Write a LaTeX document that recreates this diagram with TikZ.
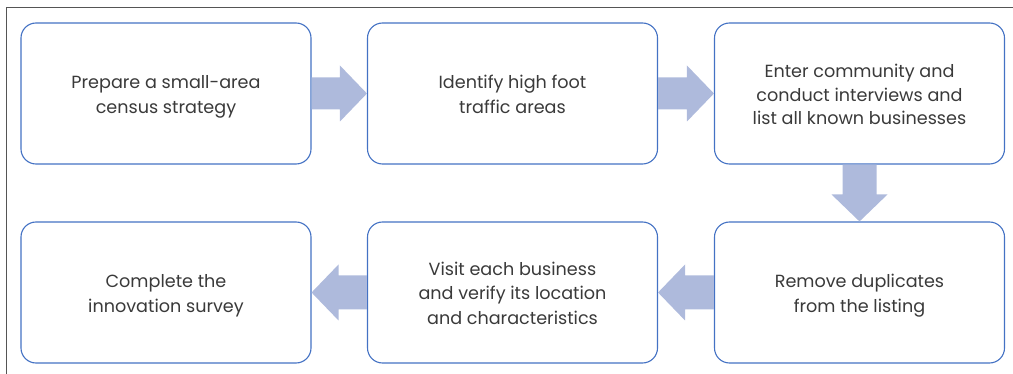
\documentclass[tikz,border=0pt]{standalone}
\usepackage{fontspec}
\setmainfont{Poppins}
\usetikzlibrary{calc}
\definecolor{boxblue}{HTML}{4472C4}
\definecolor{arrowfill}{HTML}{AEBADC}
\definecolor{txt}{HTML}{3A3A3A}
\definecolor{frame}{HTML}{555555}
\newcommand\lstrut{\rule[-4pt]{0pt}{23.5pt}}
\tikzset{
  stepbox/.style={draw=boxblue, line width=1.1pt, rounded corners=15pt, fill=white,
    minimum width=290pt, minimum height=141pt, inner sep=0pt, align=center,
    text=txt, font=\fontsize{17.6pt}{23.5pt}\selectfont},
  flowarrow/.style={fill=arrowfill, draw=none}
}
\begin{document}
\begin{tikzpicture}[x=1pt,y=-1pt]
\useasboundingbox (0,0) rectangle (1013,374);
\draw[frame, line width=1pt] (6,374) -- (6,7.5) -- (1013,7.5);
\node[stepbox] (s1) at (166,93.5) {\lstrut Prepare a small-area\\\lstrut census strategy};
\node[stepbox] (s2) at (512.5,93.5) {\lstrut Identify high foot\\\lstrut traffic areas};
\node[stepbox] (s3) at (859.5,93.5) {\lstrut Enter community and\\conduct interviews and\\\lstrut list all known businesses};
\node[stepbox] (s4) at (859.5,292.5) {\lstrut Remove duplicates\\\lstrut from the listing};
\node[stepbox] (s5) at (512.5,292.5) {\lstrut Visit each business\\and verify its location\\\lstrut and characteristics};
\node[stepbox] (s6) at (166,292.5) {\lstrut Complete the\\\lstrut innovation survey};
% right arrows
\foreach \a/\b in {s1/s2, s2/s3}{
  \fill[flowarrow] ($(\a.east)+(0,-16)$) -- ($(\b.west)+(-27,-16)$) -- ($(\b.west)+(-27,-28)$)
    -- (\b.west) -- ($(\b.west)+(-27,28)$) -- ($(\b.west)+(-27,16)$) -- ($(\a.east)+(0,16)$) -- cycle;
}
% down arrow
\fill[flowarrow] ($(s3.south)+(-17,0)$) -- ($(s4.north)+(-17,-27)$) -- ($(s4.north)+(-28,-27)$)
  -- (s4.north) -- ($(s4.north)+(28,-27)$) -- ($(s4.north)+(17,-27)$) -- ($(s3.south)+(17,0)$) -- cycle;
% left arrows
\foreach \a/\b in {s4/s5, s5/s6}{
  \fill[flowarrow] ($(\a.west)+(0,-17)$) -- ($(\b.east)+(27,-17)$) -- ($(\b.east)+(27,-28)$)
    -- (\b.east) -- ($(\b.east)+(27,28)$) -- ($(\b.east)+(27,17)$) -- ($(\a.west)+(0,17)$) -- cycle;
}
\end{tikzpicture}
\end{document}
